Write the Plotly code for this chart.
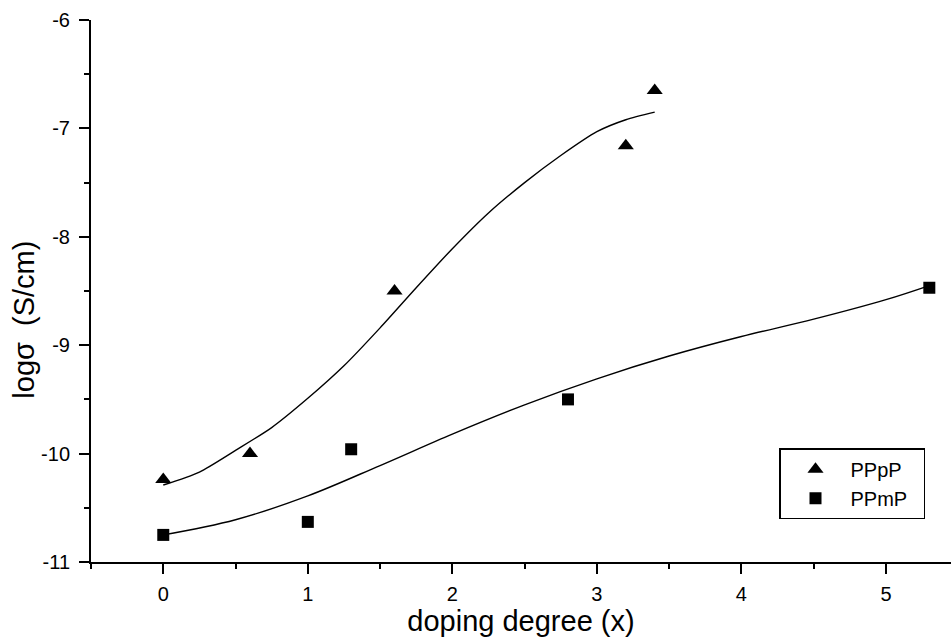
import plotly.graph_objects as go

# Measured points
pppp_x = [0.0, 0.6, 1.6, 3.2, 3.4]
pppp_y = [-10.24, -10.0, -8.5, -7.16, -6.65]
ppmp_x = [0.0, 1.0, 1.3, 2.8, 5.3]
ppmp_y = [-10.75, -10.63, -9.96, -9.5, -8.47]

# Fitted curves
pppp_fit_x = [0.0, 0.25, 0.5, 0.75, 1.0, 1.25, 1.5, 1.75, 2.0, 2.25, 2.5, 2.75, 3.0, 3.2, 3.4]
pppp_fit_y = [-10.29, -10.17, -9.97, -9.76, -9.49, -9.19, -8.84, -8.47, -8.11, -7.78, -7.5, -7.25, -7.03, -6.92, -6.85]
ppmp_fit_x = [0.0, 0.5, 1.0, 1.5, 2.0, 2.5, 3.0, 3.5, 4.0, 4.5, 5.0, 5.3]
ppmp_fit_y = [-10.75, -10.61, -10.39, -10.11, -9.82, -9.55, -9.31, -9.1, -8.92, -8.76, -8.58, -8.45]

x_ticks = [0, 1, 2, 3, 4, 5]
x_tick_labels = ["0", "1", "2", "3", "4", "5"]
y_ticks = [-11, -10, -9, -8, -7, -6]
y_tick_labels = ["-11", "-10", "-9", "-8", "-7", "-6"]

fig = go.Figure()
fig.add_trace(go.Scatter(x=pppp_fit_x, y=pppp_fit_y, mode="lines",
                         line=dict(color="black", width=1.4, shape="spline", smoothing=0.7), showlegend=False))
fig.add_trace(go.Scatter(x=ppmp_fit_x, y=ppmp_fit_y, mode="lines",
                         line=dict(color="black", width=1.4, shape="spline", smoothing=1.0), showlegend=False))
fig.add_trace(go.Scatter(x=pppp_x, y=pppp_y, mode="markers", name="PPpP\u00a0\u00a0",
                         marker=dict(symbol="triangle-up", size=14, color="black")))
fig.add_trace(go.Scatter(x=ppmp_x, y=ppmp_y, mode="markers", name="PPmP\u00a0\u00a0",
                         marker=dict(symbol="square", size=12, color="black")))

font = "Liberation Sans, Arial, sans-serif"
fig.update_layout(
    width=951, height=638,
    margin=dict(l=91, r=0, t=20, b=76),
    plot_bgcolor="white", paper_bgcolor="white",
    font=dict(family=font, color="black", size=20),
    legend=dict(x=0.8, y=0.21, xanchor="left", yanchor="top",
                bordercolor="black", borderwidth=1.5, bgcolor="white",
                font=dict(size=20, family=font), itemwidth=60,
                tracegroupgap=0),
    annotations=[dict(text="logσ\u00a0 (S/cm)", textangle=-90, xref="paper", yref="paper",
                      x=-0.078, y=0.447, xanchor="center", yanchor="middle",
                      showarrow=False, font=dict(size=29, family=font))],
)
fig.update_xaxes(range=[-0.5, 5.45], showgrid=False, zeroline=False,
                 showline=True, linecolor="black", linewidth=2,
                 ticks="outside", ticklen=10, tickwidth=1.5, tickcolor="black",
                 tickvals=x_ticks, ticktext=x_tick_labels, ticklabelstandoff=3,
                 minor=dict(dtick=0.5, tick0=0, ticks="outside", ticklen=5, tickcolor="black", tickwidth=1.5),
                 tickfont=dict(size=20),
                 title=dict(text="doping degree (x)", font=dict(size=29), standoff=1))
fig.update_yaxes(range=[-11, -6], showgrid=False, zeroline=False,
                 showline=True, linecolor="black", linewidth=2,
                 ticks="outside", ticklen=10, tickwidth=1.5, tickcolor="black",
                 tickvals=y_ticks, ticktext=y_tick_labels, ticklabelstandoff=5,
                 minor=dict(dtick=0.5, tick0=0, ticks="outside", ticklen=5, tickcolor="black", tickwidth=1.5),
                 tickfont=dict(size=20))

fig.write_html("out.html")
